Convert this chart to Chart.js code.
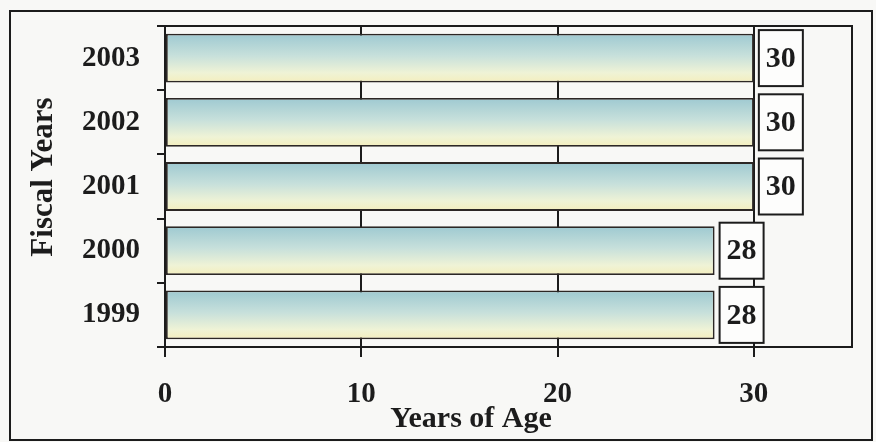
<!DOCTYPE html>
<html>
<head>
<meta charset="utf-8">
<script src="https://cdn.jsdelivr.net/npm/chart.js@4.4.0/dist/chart.umd.min.js"></script>
<style>
  html, body { margin: 0; padding: 0; background: #f8f8f6; }
  #wrap { width: 876px; height: 442px; position: relative; }
</style>
</head>
<body>
<div id="wrap"><canvas id="c" width="876" height="442"></canvas></div>
<script>
// Median age by fiscal year
const fiscalYears = ['1999', '2000', '2001', '2002', '2003'];
const medianAge = [28, 28, 30, 30, 30];
const ageTicks = [0, 10, 20, 30];
const xTitle = 'Years of Age';
const yTitle = 'Fiscal Years';

const SERIF = "'Liberation Serif', 'Times New Roman', serif";
const INK = '#1c1c1c';
const BAR_FRACTION = 0.76;

// Vertical teal-to-cream gradient for each bar, sized from the category scale
function barGradient(ctx) {
  const chart = ctx.chart;
  const y = chart.scales && chart.scales.y;
  if (!y || ctx.type !== 'data' || !isFinite(y.height)) return '#c9e0db';
  const center = y.getPixelForValue(ctx.dataIndex);
  const half = (y.height / fiscalYears.length) * BAR_FRACTION / 2;
  const g = chart.ctx.createLinearGradient(0, center - half, 0, center + half);
  g.addColorStop(0, '#9ec9d1');
  g.addColorStop(0.45, '#c7e0db');
  g.addColorStop(0.8, '#eff3d6');
  g.addColorStop(1, '#f4eebd');
  return g;
}

const framePlugin = {
  id: 'frame',
  beforeDraw(chart) {
    const ctx = chart.ctx;
    ctx.save();
    ctx.fillStyle = '#f8f8f6';
    ctx.fillRect(0, 0, chart.width, chart.height);
    ctx.strokeStyle = INK;
    ctx.lineWidth = 2;
    ctx.strokeRect(10, 11, 862, 429);
    ctx.restore();
  },
  afterDatasetsDraw(chart) {
    const ctx = chart.ctx;
    const a = chart.chartArea;
    ctx.save();
    // top and right edges of the plot box
    ctx.strokeStyle = INK;
    ctx.lineWidth = 2;
    ctx.beginPath();
    ctx.moveTo(a.left, a.top);
    ctx.lineTo(a.right, a.top);
    ctx.lineTo(a.right, a.bottom);
    ctx.stroke();

    // boxed value labels at the end of each bar
    const meta = chart.getDatasetMeta(0);
    ctx.font = 'bold 30px ' + SERIF;
    ctx.textAlign = 'center';
    ctx.textBaseline = 'middle';
    meta.data.forEach((bar, i) => {
      const w = 44, h = 56;
      const bx = bar.x + 5, by = bar.y - h / 2;
      ctx.fillStyle = '#fdfdfc';
      ctx.fillRect(bx, by, w, h);
      ctx.strokeStyle = INK;
      ctx.lineWidth = 2;
      ctx.strokeRect(bx, by, w, h);
      ctx.fillStyle = INK;
      ctx.fillText(String(medianAge[i]), bx + w / 2, bar.y + 1);
    });

    // axis titles
    ctx.fillStyle = INK;
    ctx.font = 'bold 30px ' + SERIF;
    ctx.textBaseline = 'alphabetic';
    ctx.fillText(xTitle, 471, 427);

    ctx.font = 'bold 31px ' + SERIF;
    ctx.textBaseline = 'middle';
    ctx.translate(44, 177);
    ctx.rotate(-Math.PI / 2);
    ctx.fillText(yTitle, 0, 0);
    ctx.restore();
  }
};

new Chart(document.getElementById('c'), {
  type: 'bar',
  data: {
    labels: fiscalYears,
    datasets: [{
      data: medianAge,
      backgroundColor: barGradient,
      borderColor: '#2c2725',
      borderWidth: 1.8,
      borderSkipped: false,
      categoryPercentage: 1,
      barPercentage: BAR_FRACTION
    }]
  },
  options: {
    indexAxis: 'y',
    responsive: false,
    devicePixelRatio: 1,
    animation: false,
    layout: { padding: { top: 26, right: 24, left: 0, bottom: 0 } },
    plugins: {
      legend: { display: false },
      tooltip: { enabled: false }
    },
    scales: {
      x: {
        type: 'linear',
        min: 0,
        max: 35,
        afterBuildTicks: s => { s.ticks = ageTicks.map(v => ({ value: v })); },
        afterFit: s => { s.height = 95; s.paddingLeft = 0; s.paddingRight = 0; },
        grid: { color: INK, lineWidth: 2, tickLength: 10, drawOnChartArea: true },
        border: { color: INK, width: 2 },
        ticks: {
          color: INK,
          font: { family: SERIF, size: 29, weight: 'bold' },
          padding: 20,
          maxRotation: 0
        }
      },
      y: {
        type: 'category',
        reverse: true,
        afterFit: s => { s.width = 165; s.paddingTop = 0; s.paddingBottom = 0; },
        grid: { color: INK, lineWidth: 2, tickLength: 8, drawOnChartArea: false, offset: true },
        border: { color: INK, width: 2 },
        ticks: {
          color: INK,
          font: { family: SERIF, size: 29, weight: 'bold' },
          padding: 17
        }
      }
    }
  },
  plugins: [framePlugin]
});
</script>
</body>
</html>
